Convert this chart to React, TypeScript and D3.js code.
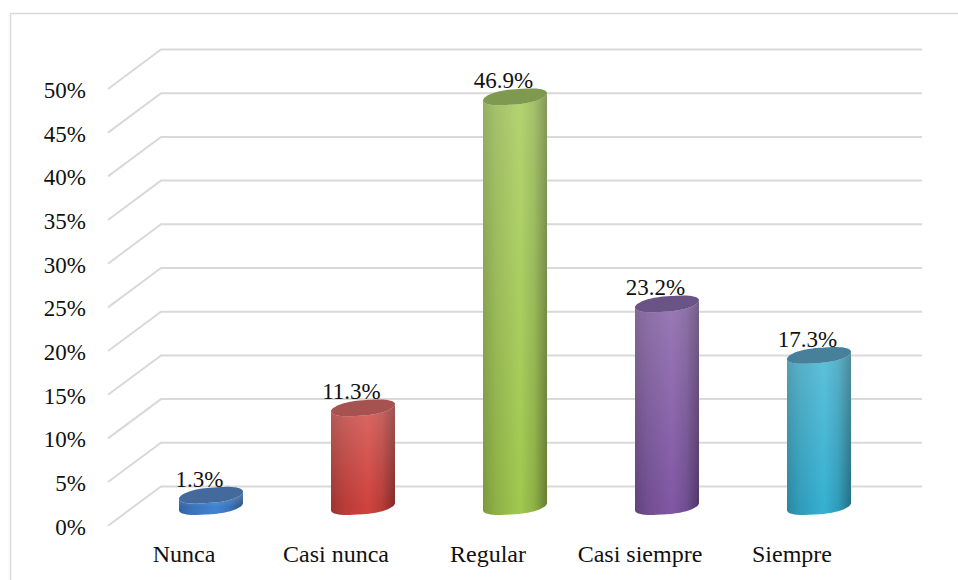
import React from "react";
import * as d3 from "d3";

const categories = ["Nunca", "Casi nunca", "Regular", "Casi siempre", "Siempre"];
const percentages = [1.3, 11.3, 46.9, 23.2, 17.3];
const barColors = ["#3f7ecb", "#c9413c", "#9bc24c", "#7c559f", "#35abcb"];
const capColors = ["#44699c", "#a55250", "#7f9a50", "#6a5486", "#46809a"];
const axisTicks = [0, 5, 10, 15, 20, 25, 30, 35, 40, 45, 50];

const WIDTH = 958;
const HEIGHT = 580;
const FONT = "'Liberation Serif', 'Times New Roman', serif";
const GRID = "#d9d9d9";
const INK = "#111111";

// The floor of the 3D box runs from the front edge to the back wall.
const frontY = d3.scaleLinear().domain([0, 50]).range([525.7, 89]);
const backY = d3.scaleLinear().domain([0, 50]).range([486.5, 49.5]);
const midY = (v: number) => (frontY(v) + backY(v)) / 2 + 0.5;
const FRONT_X = 108;
const BACK_X = 161;
const RIGHT_X = 922;

const xBand = d3.scaleBand<string>().domain(categories).range([135, 895]);
const RX = 32;
const RY = 7.6;
const SHEAR = 3.6;

const angles = d3.range(0, 2 * Math.PI + 0.01, Math.PI / 48);

// Point on a column's rim: a slightly squared ellipse tilted by the perspective.
function rimPoint(cx: number, cy: number, t: number): [number, number] {
  const c = Math.cos(t);
  const s = Math.sin(t);
  const squared = Math.sign(c) * Math.pow(Math.abs(c), 0.8);
  return [cx + RX * squared, cy + RY * s - SHEAR * c];
}

function capPath(cx: number, cy: number) {
  return d3.line()(angles.map((t) => rimPoint(cx, cy, t))) + "Z";
}

function bodyPath(cx: number, top: number, base: number) {
  const front = angles.filter((t) => t <= Math.PI + 0.001);
  const lower = front.map((t) => rimPoint(cx, base, t));
  const upper = front.map((t) => rimPoint(cx, top, t)).reverse();
  return d3.line()([...lower, ...upper]) + "Z";
}

function shade(color: string, k: number) {
  const c = d3.color(color)!;
  return (k >= 0 ? c.brighter(k) : c.darker(-k)).formatHex();
}

export default function App() {
  const bars = categories.map((name, i) => ({
    name,
    value: percentages[i],
    color: barColors[i],
    cap: capColors[i],
    cx: (xBand(name) as number) + xBand.bandwidth() / 2,
    top: midY(percentages[i]),
    base: midY(0),
  }));

  return (
    <svg
      width={WIDTH}
      height={HEIGHT}
      viewBox={`0 0 ${WIDTH} ${HEIGHT}`}
      style={{ position: "absolute", left: 0, top: 0, background: "#fff" }}
    >
      <defs>
        {bars.map((b, i) => (
          <React.Fragment key={b.name}>
            <linearGradient id={`side-${i}`} x1="0" x2="1" y1="0" y2="0">
              <stop offset="0" stopColor={shade(b.color, -0.65)} />
              <stop offset="0.2" stopColor={shade(b.color, -0.25)} />
              <stop offset="0.58" stopColor={shade(b.color, 0.1)} />
              <stop offset="0.8" stopColor={shade(b.color, -0.25)} />
              <stop offset="1" stopColor={shade(b.color, -1.2)} />
            </linearGradient>
            {/* each column fades from a lighter top down to its full colour */}
            <linearGradient
              id={`sheen-${i}`}
              gradientUnits="userSpaceOnUse"
              x1="0"
              x2="0"
              y1={b.top}
              y2={b.base}
            >
              <stop offset="0" stopColor="#ffffff" stopOpacity={0.2} />
              <stop offset="1" stopColor="#ffffff" stopOpacity={0} />
            </linearGradient>
          </React.Fragment>
        ))}
      </defs>

      {/* chart frame, open towards the right and bottom page edges */}
      <path d={`M10.5,${HEIGHT} V13.5 H${WIDTH}`} fill="none" stroke={GRID} strokeWidth={1.5} />

      {axisTicks.map((t) => (
        <path
          key={t}
          d={`M${FRONT_X},${frontY(t)} L${BACK_X},${backY(t)} H${RIGHT_X}`}
          fill="none"
          stroke={GRID}
          strokeWidth={2}
        />
      ))}

      {axisTicks.map((t) => (
        <text
          key={t}
          x={86}
          y={frontY(t) + 9}
          textAnchor="end"
          fontFamily={FONT}
          fontSize={23}
          fill={INK}
        >
          {`${t}%`}
        </text>
      ))}

      {bars.map((b, i) => (
        <g key={b.name}>
          <path d={bodyPath(b.cx, b.top, b.base)} fill={`url(#side-${i})`} />
          <path d={bodyPath(b.cx, b.top, b.base)} fill={`url(#sheen-${i})`} />
          <path d={capPath(b.cx, b.top)} fill={b.cap} />
        </g>
      ))}

      {bars.map((b) => (
        <text
          key={b.name}
          x={b.cx - 11.5}
          y={b.top - 8.5}
          textAnchor="middle"
          fontFamily={FONT}
          fontSize={23}
          fill={INK}
        >
          {`${b.value.toFixed(1)}%`}
        </text>
      ))}

      {bars.map((b) => (
        <text
          key={b.name}
          x={b.cx - 27}
          y={561.5}
          textAnchor="middle"
          fontFamily={FONT}
          fontSize={24}
          fill={INK}
        >
          {b.name}
        </text>
      ))}
    </svg>
  );
}
